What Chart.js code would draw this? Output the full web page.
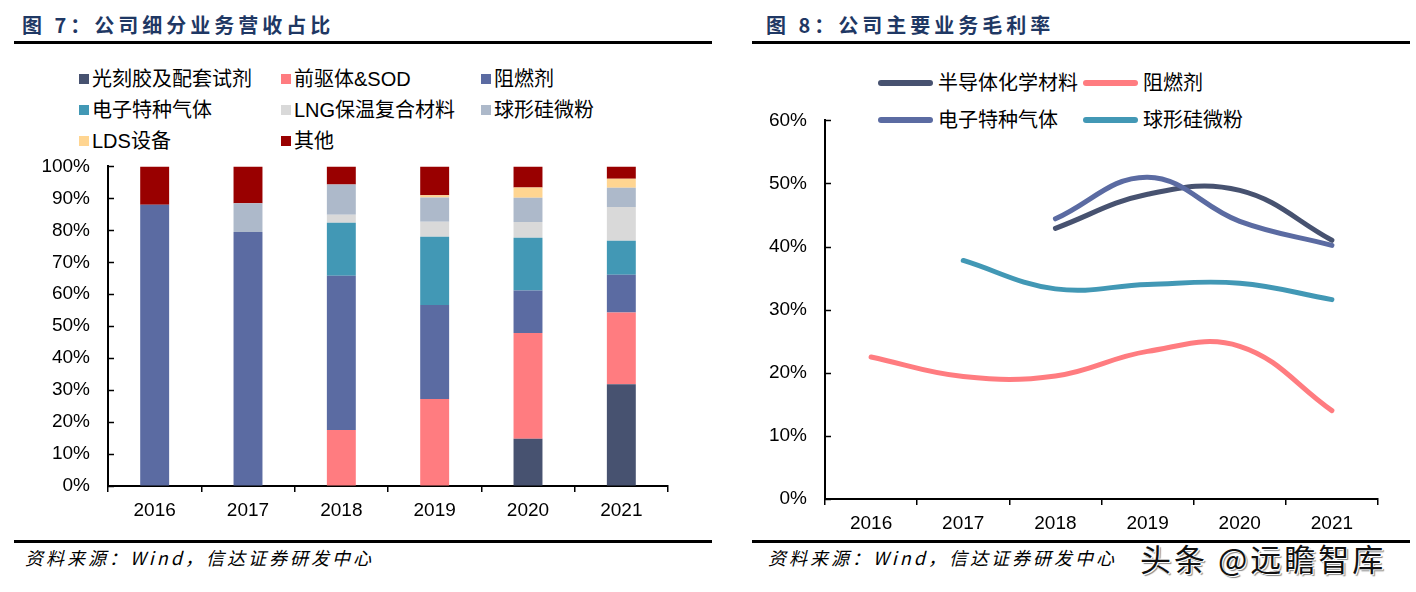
<!DOCTYPE html>
<html>
<head>
<meta charset="utf-8">
<script src="https://cdn.jsdelivr.net/npm/chart.js@4.4.1/dist/chart.umd.min.js"></script>
<style>
  body { margin: 0; background: #fff; width: 1416px; height: 592px; position: relative; overflow: hidden;
         font-family: "Liberation Sans", "Noto Sans CJK SC", sans-serif; }
  .title { position: absolute; top: 10px; font: bold 20px "Noto Sans CJK SC", sans-serif; color: #1f3864; letter-spacing: 4px; }
  .rule { position: absolute; height: 3px; background: #000; }
  .src { position: absolute; top: 544px; font: italic 18px "Noto Sans CJK SC", sans-serif; letter-spacing: 3px; color: #000; }
  .lg { position: absolute; font-size: 20px; line-height: 24px; color: #000; white-space: nowrap; }
  .sq { position: absolute; width: 10px; height: 10px; }
  .ln { position: absolute; height: 6px; border-radius: 3px; }
  canvas { position: absolute; }
  .wm { position: absolute; left: 1140px; top: 535px; font: 31px "Noto Sans CJK SC", sans-serif; color: #111;
        text-shadow: 1px 1px 0 #fff, -1px -1px 0 #fff, 2px 2px 1px #888; letter-spacing: 3px; }
</style>
</head>
<body>
<div class="title" style="left:22px">图 7：公司细分业务营收占比</div>
<div class="title" style="left:766px">图 8：公司主要业务毛利率</div>
<div class="rule" style="left:14px;width:698px;top:41px"></div>
<div class="rule" style="left:752px;width:658px;top:41px"></div>
<div class="rule" style="left:14px;width:698px;top:540px"></div>
<div class="rule" style="left:752px;width:658px;top:540px"></div>
<div class="src" style="left:25px">资料来源：Wind，信达证券研发中心</div>
<div class="src" style="left:768px">资料来源：Wind，信达证券研发中心</div>
<div class="wm">头条 @远瞻智库</div>
<div id="legend1"></div>
<div id="legend2"></div>
<canvas id="chart1" width="712" height="389" style="left:0;top:137px"></canvas>
<canvas id="chart2" width="696" height="448" style="left:720px;top:91px"></canvas>
<script>
// 图7 data (share of revenue, %)
const years = ['2016', '2017', '2018', '2019', '2020', '2021'];
const segNames = ['光刻胶及配套试剂', '前驱体&SOD', '阻燃剂', '电子特种气体', 'LNG保温复合材料', '球形硅微粉', 'LDS设备', '其他'];
const photoresist = [0, 0, 0, 0, 14.8, 31.8];
const precursor = [0, 0, 17.5, 27.2, 33.1, 22.5];
const flameRet = [88, 79.5, 48.3, 29.4, 13.3, 11.8];
const elecGas = [0, 0, 16.6, 21.4, 16.5, 10.6];
const lng = [0, 0, 2.5, 4.7, 4.9, 10.6];
const silica = [0, 9, 9.4, 7.6, 7.6, 6.0];
const lds = [0, 0, 0, 0.7, 3.2, 2.8];
const others = [12, 11.5, 5.7, 9.0, 6.6, 3.9];
const shareTicks = [0, 10, 20, 30, 40, 50, 60, 70, 80, 90, 100];

// 图8 data (gross margin, %)
const marginNames = ['半导体化学材料', '阻燃剂', '电子特种气体', '球形硅微粉'];
const mSemi = [null, null, 42.9, 48.3, 48.9, 41.0];
const mFlame = [22.5, 19.4, 19.5, 23.4, 24.2, 14.0];
const mGas = [null, null, 44.4, 51.0, 44.0, 40.2];
const mSilica = [null, 37.8, 33.3, 34.0, 34.2, 31.6];
const marginTicks = [0, 10, 20, 30, 40, 50, 60];

const segColors = ['#475270', '#ff7c80', '#5b6ba2', '#4298b5', '#d9d9d9', '#adb9ca', '#ffd591', '#990000'];
const lineColors = ['#475270', '#ff7c80', '#5b6ba2', '#4298b5'];
const FONT = { family: '"Liberation Sans", Arial, sans-serif', size: 19 };

// legends
const lg1 = document.getElementById('legend1');
const lg1Pos = [[79, 79], [281, 79], [481, 79], [79, 110], [281, 110], [481, 110], [79, 141], [281, 141]];
segNames.forEach(function(n, i){
    const p = lg1Pos[i];
    lg1.innerHTML += `<div class="sq" style="left:${p[0]}px;top:${p[1]-5}px;background:${segColors[i]}"></div>` +
        `<div class="lg" style="left:${p[0]+13}px;top:${p[1]-12}px">${n}</div>`;
});
const lg2 = document.getElementById('legend2');
const lg2Pos = [[878, 83], [1083, 83], [878, 120], [1083, 120]];
marginNames.forEach(function(n, i){
    const p = lg2Pos[i];
    lg2.innerHTML += `<div class="ln" style="left:${p[0]}px;width:55px;top:${p[1]-3}px;background:${lineColors[i]}"></div>` +
        `<div class="lg" style="left:${p[0]+60}px;top:${p[1]-12}px">${n}</div>`;
});

// small tick marks drawn inside the y axis
const innerTicks = {
    id: 'innerTicks',
    afterDraw(chart){
        const y = chart.scales.y, ctx = chart.ctx, x0 = chart.chartArea.left;
        ctx.save();
        ctx.strokeStyle = '#000';
        ctx.lineWidth = 1.5;
        y.ticks.forEach(function(t, i){
            const py = Math.round(y.getPixelForTick(i)) + 0.5;
            ctx.beginPath();
            ctx.moveTo(x0, py);
            ctx.lineTo(x0 + 6, py);
            ctx.stroke();
        });
        ctx.restore();
    }
};

function axes(yMax, ticksArr, yWidth, stacked){
    return {
        x: {
            stacked: stacked,
            offset: true,
            grid: { offset: true, drawOnChartArea: false, drawTicks: true, tickLength: 6, color: '#000', lineWidth: 1.5 },
            border: { display: true, color: '#000', width: 2 },
            ticks: { color: '#000', font: FONT, padding: 7, maxRotation: 0 },
            afterFit: function(s){ s.height = 40; }
        },
        y: {
            stacked: stacked,
            min: 0, max: yMax,
            afterBuildTicks: function(s){ s.ticks = ticksArr.map(v => ({ value: v })); },
            grid: { drawOnChartArea: false, drawTicks: false },
            border: { display: true, color: '#000', width: 2 },
            ticks: { color: '#000', font: FONT, padding: 18, callback: v => v + '%' },
            afterFit: function(s){ s.width = yWidth; }
        }
    };
}

const segData = [photoresist, precursor, flameRet, elecGas, lng, silica, lds, others];
new Chart(document.getElementById('chart1'), {
    type: 'bar',
    data: {
        labels: years,
        datasets: segData.map((d, i) => ({
            label: segNames[i], data: d, backgroundColor: segColors[i],
            barPercentage: 0.31, categoryPercentage: 1
        }))
    },
    options: {
        responsive: false, animation: false,
        layout: { padding: { top: 17, right: 44, bottom: 0, left: 0 } },
        plugins: { legend: { display: false }, tooltip: { enabled: false } },
        scales: axes(100, shareTicks, 108, true)
    },
    plugins: [innerTicks]
});

const marginData = [mSemi, mFlame, mGas, mSilica];
new Chart(document.getElementById('chart2'), {
    type: 'line',
    data: {
        labels: years,
        datasets: marginData.map((d, i) => ({
            label: marginNames[i], data: d, borderColor: lineColors[i],
            borderWidth: 5, borderCapStyle: 'round', borderJoinStyle: 'round',
            pointRadius: 0, tension: 0.4, fill: false, order: 4 - i
        }))
    },
    options: {
        responsive: false, animation: false,
        layout: { padding: { top: 20, right: 38, bottom: 0, left: 0 } },
        plugins: { legend: { display: false }, tooltip: { enabled: false } },
        scales: axes(60, marginTicks, 105, false)
    },
    plugins: [innerTicks]
});
</script>
</body>
</html>
